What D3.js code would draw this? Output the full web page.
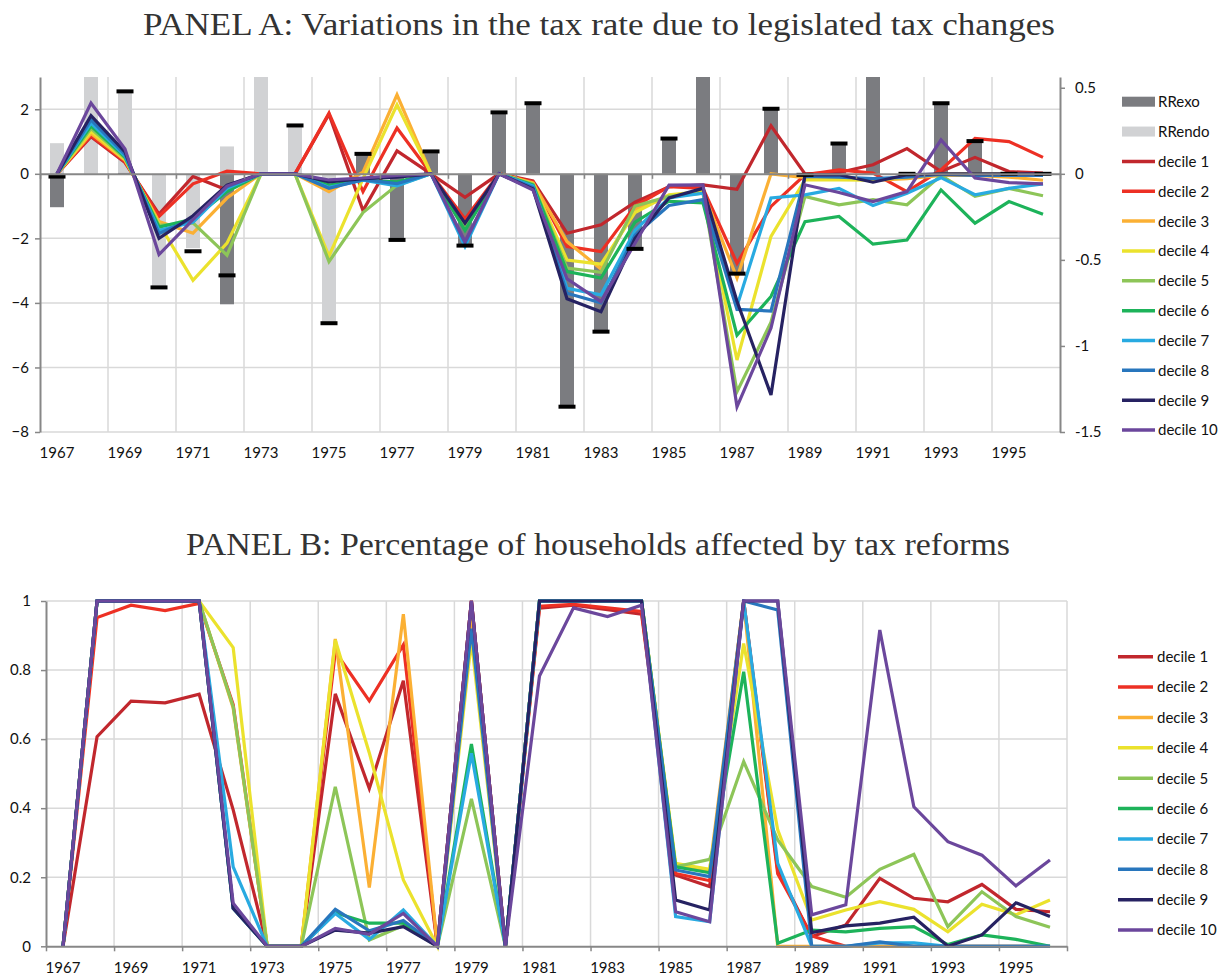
<!DOCTYPE html>
<html><head><meta charset="utf-8">
<script src="https://cdn.jsdelivr.net/npm/d3@7"></script>
<style>
body{margin:0;background:#fff}
text{font-family:Lato,'Open Sans',sans-serif}
text.title{font-family:'Liberation Serif','Times New Roman',serif}
</style>
</head><body>
<svg id="c" width="1229" height="978"></svg>
<script>
// ---------- DATA ----------
const years = [1967,1968,1969,1970,1971,1972,1973,1974,1975,1976,1977,1978,1979,1980,1981,1982,1983,1984,1985,1986,1987,1988,1989,1990,1991,1992,1993,1994,1995,1996];
const yearLabels = [1967,1969,1971,1973,1975,1977,1979,1981,1983,1985,1987,1989,1991,1993,1995];
const aLeftTicks = [-8,-6,-4,-2,0,2];
const aRightTicks = [-1.5,-1,-0.5,0,0.5];
const bTicks = [0,0.2,0.4,0.6,0.8,1];
const decileNames = ["decile 1","decile 2","decile 3","decile 4","decile 5","decile 6","decile 7","decile 8","decile 9","decile 10"];
const decileColors = ["#c1272d","#ed3024","#fbb034","#ebe22d","#8dc558","#1db35a","#28aae1","#2876bd","#262262","#6b479c"];

// Panel A bars (secondary axis)
const rrExo  = [-0.194,0,0.005,0,0,-0.758,0,0,0,0.11,-0.384,0.12,-0.413,0.353,0.405,-1.353,-0.917,-0.43,0.198,0.8,-0.577,0.372,-0.005,0.169,0.8,0,0.405,0.182,0,0];
const rrEndo = [0.178,0.8,0.469,-0.655,-0.432,0.159,0.8,0.275,-0.868,0,0,0,0,0,0,0,0,0,0,0,0,0,0,0,0,0,0,0,0,0];
const rrTotal = [-0.016,null,0.479,-0.66,-0.45,-0.59,null,0.281,-0.868,0.116,-0.384,0.13,-0.417,0.357,0.41,-1.353,-0.917,-0.436,0.205,null,-0.58,0.378,-0.006,0.176,null,0,0.41,0.19,0,0];

// Panel A deciles (primary axis)
const aDecile1  = [0,1.15,0.35,-1.25,-0.08,-0.5,0,0,1.85,-1.14,0.71,0,-0.73,0,-0.22,-1.84,-1.58,-0.88,-0.4,-0.34,-0.48,1.49,0,0.04,0.28,0.78,0.07,0.51,0.07,0.02];
const aDecile2  = [0,1.18,0.38,-1.32,-0.31,0.08,0,0,1.88,-0.55,1.42,0,-1.4,0,-0.25,-2.25,-2.41,-1.0,-0.4,-0.45,-2.77,-1.01,-0.03,0.12,0.02,-0.55,0.12,1.1,1.0,0.51];
const aDecile3  = [0,1.25,0.42,-1.48,-1.84,-0.75,0,0,-0.55,0.05,2.45,0,-1.6,0,-0.28,-2.1,-2.95,-1.1,-0.7,-0.55,-3.23,0.0,-0.12,-0.1,-0.2,-0.15,-0.05,-0.05,-0.1,-0.2];
const aDecile4  = [0,1.32,0.45,-1.55,-3.3,-2.15,0,0,-2.55,-0.15,2.14,0,-1.7,0,-0.3,-2.67,-2.8,-1.2,-0.65,-0.55,-5.77,-1.94,-0.19,-0.19,-0.2,-0.1,0,0,0,-0.05];
const aDecile5  = [0,1.40,0.48,-1.6,-1.52,-2.52,0,0,-2.72,-1.2,-0.35,0,-1.65,0,-0.32,-2.92,-3.05,-1.0,-0.7,-0.6,-6.75,-4.6,-0.7,-0.96,-0.8,-0.96,-0.05,-0.7,-0.45,-0.68];
const aDecile6  = [0,1.48,0.52,-1.65,-1.4,-0.55,0,0,-0.35,-0.2,-0.25,0,-1.75,0,-0.35,-3.03,-3.23,-1.5,-0.85,-0.9,-5.0,-3.8,-1.48,-1.32,-2.18,-2.05,-0.5,-1.53,-0.86,-1.25];
const aDecile7  = [0,1.57,0.56,-1.75,-1.5,-0.45,0,0,-0.42,-0.2,-0.37,0,-2.25,0,-0.38,-3.55,-3.75,-1.75,-0.75,-0.6,-4.1,-0.75,-0.65,-0.45,-0.98,-0.6,-0.12,-0.65,-0.45,-0.31];
const aDecile8  = [0,1.67,0.6,-1.85,-1.38,-0.4,0,0,-0.45,-0.18,-0.3,0,-2.15,0,-0.42,-3.7,-4.0,-1.9,-0.98,-0.8,-4.2,-4.25,-0.08,-0.1,-0.15,-0.1,-0.02,-0.05,-0.05,-0.05];
const aDecile9  = [0,1.80,0.68,-2.0,-1.3,-0.35,0,0,-0.25,-0.15,-0.1,0,-1.53,0,-0.47,-3.87,-4.27,-2.0,-0.75,-0.45,-3.95,-6.85,-0.03,-0.03,-0.26,-0.03,0,0,0,0];
const aDecile10 = [0,2.19,0.77,-2.5,-1.42,-0.38,0,0,-0.19,-0.13,-0.05,0,-2.1,0,-0.5,-3.25,-3.96,-2.15,-0.35,-0.34,-7.22,-4.78,-0.34,-0.58,-0.86,-0.55,1.05,-0.13,-0.27,-0.31];

// Panel B deciles
const bDecile1  = [0,0.607,0.71,0.705,0.73,0.395,0,0,0.731,0.457,0.769,0,1,0,0.979,0.988,0.975,0.962,0.206,0.173,1,0.221,0.028,0.062,0.197,0.139,0.129,0.179,0.107,0.1];
const bDecile2  = [0,0.952,0.988,0.972,0.993,0.70,0,0,0.853,0.711,0.873,0,1,0,0.985,0.99,0.98,0.97,0.211,0.19,1,0.21,0.03,0,0,0,0,0,0,0];
const bDecile3  = [0,1,1,1,1,0.69,0,0,0.89,0.17,0.962,0,0.96,0,1,1,1,1,0.235,0.22,1,0,0,0,0,0,0,0,0,0];
const bDecile4  = [0,1,1,1,1,0.865,0,0,0.887,0.56,0.192,0,0.887,0,1,1,1,1,0.24,0.223,0.877,0.337,0.076,0.105,0.129,0.107,0.042,0.122,0.091,0.134];
const bDecile5  = [0,1,1,1,1,0.694,0,0,0.462,0.018,0.06,0,0.427,0,1,1,1,1,0.23,0.252,0.535,0.308,0.173,0.142,0.223,0.266,0.057,0.158,0.086,0.055];
const bDecile6  = [0,1,1,1,1,0.11,0,0,0.097,0.067,0.067,0,0.586,0,1,1,1,1,0.23,0.213,0.795,0.009,0.047,0.042,0.052,0.057,0.005,0.033,0.02,0];
const bDecile7  = [0,1,1,1,1,0.23,0,0,0.095,0.02,0.105,0,0.559,0,1,1,1,1,0.086,0.071,1,0.24,0,0,0.01,0.01,0,0,0,0];
const bDecile8  = [0,1,1,1,1,0.11,0,0,0.107,0.045,0.075,0,0.92,0,1,1,1,1,0.221,0.202,1,0.974,0,0,0.013,0,0,0,0,0];
const bDecile9  = [0,1,1,1,1,0.11,0,0,0.047,0.038,0.057,0,1,0,1,1,1,1,0.134,0.105,1,1,0.04,0.059,0.067,0.084,0,0.033,0.126,0.086];
const bDecile10 = [0,1,1,1,1,0.125,0,0,0.052,0.035,0.095,0,1,0,0.783,0.98,0.955,0.988,0.1,0.071,1,1,0.091,0.12,0.916,0.404,0.303,0.264,0.175,0.25];

const aSeries = [aDecile1,aDecile2,aDecile3,aDecile4,aDecile5,aDecile6,aDecile7,aDecile8,aDecile9,aDecile10];
const bSeries = [bDecile1,bDecile2,bDecile3,bDecile4,bDecile5,bDecile6,bDecile7,bDecile8,bDecile9,bDecile10];

// ---------- STYLE ----------
const axisCol = "#878787", gridCol = "#d9d9d9", exoCol = "#7b7c80", endoCol = "#d1d2d4";
const svg = d3.select("#c");

function styleAxis(g){
  g.selectAll("path.domain").attr("stroke", axisCol).attr("stroke-width", 2);
  g.selectAll(".tick line").attr("stroke", axisCol).attr("stroke-width", 1.5);
  g.selectAll(".tick text").attr("fill","#111").attr("font-size",15);
}

// ---------- TITLES ----------
svg.append("text").attr("class","title").attr("x",143).attr("y",35).text("PANEL A: Variations in the tax rate due to legislated tax changes")
  .attr("font-size",31).attr("fill","#333")
  .attr("textLength",912).attr("lengthAdjust","spacingAndGlyphs");
svg.append("text").attr("class","title").attr("x",186).attr("y",555).text("PANEL B: Percentage of households affected by tax reforms")
  .attr("font-size",31).attr("fill","#333")
  .attr("textLength",824).attr("lengthAdjust","spacingAndGlyphs");

// ---------- PANEL A ----------
const aTop = 77, aBot = 432, aL = 40, aR = 1060;
const ax = d3.scaleBand().domain(years).range([aL,aR]).padding(0);
const axB = d3.scaleLinear().domain([0,years.length]).range([aL,aR]);
const ayL = d3.scaleLinear().domain([-8,3]).range([aBot,aTop]);
const ayR = d3.scaleLinear().domain([-1.5,0.5625]).range([aBot,aTop]);
const gA = svg.append("g");

svg.append("clipPath").attr("id","clipA").append("rect").attr("x",aL).attr("y",aTop).attr("width",aR-aL).attr("height",aBot-aTop);

// gridlines
gA.append("g").selectAll("line").data(aLeftTicks.filter(d=>d!==0)).join("line")
  .attr("x1",aL).attr("x2",aR).attr("y1",d=>ayL(d)).attr("y2",d=>ayL(d)).attr("stroke",gridCol).attr("stroke-width",1.5);
gA.append("g").selectAll("line").data(d3.range(2,years.length,2)).join("line")
  .attr("x1",d=>axB(d)).attr("x2",d=>axB(d)).attr("y1",aTop).attr("y2",aBot).attr("stroke",gridCol).attr("stroke-width",1.5);

const plotA = gA.append("g").attr("clip-path","url(#clipA)");
const bw = 14;
plotA.append("g").selectAll("rect").data(years.map((y,i)=>({y,v:rrEndo[i]})).filter(d=>d.v!==0)).join("rect")
  .attr("x",d=>ax(d.y)+ax.bandwidth()/2-bw/2).attr("width",bw)
  .attr("y",d=>Math.min(ayR(0),ayR(d.v))).attr("height",d=>Math.abs(ayR(d.v)-ayR(0))).attr("fill",endoCol);
plotA.append("g").selectAll("rect").data(years.map((y,i)=>({y,v:rrExo[i]})).filter(d=>d.v!==0)).join("rect")
  .attr("x",d=>ax(d.y)+ax.bandwidth()/2-bw/2).attr("width",bw)
  .attr("y",d=>Math.min(ayR(0),ayR(d.v))).attr("height",d=>Math.abs(ayR(d.v)-ayR(0))).attr("fill",exoCol);

// zero category axis with ticks
const gZero = gA.append("g").attr("transform",`translate(0,${ayL(0)})`)
  .call(d3.axisBottom(axB).tickValues(d3.range(0,years.length+1,2)).tickFormat("").tickSize(5).tickSizeOuter(0));
styleAxis(gZero);

// decile lines
const lineA = d3.line().x((d,i)=>ax(years[i])+ax.bandwidth()/2).y(d=>ayL(d));
plotA.append("g").selectAll("path").data(aSeries).join("path")
  .attr("d",lineA).attr("fill","none").attr("stroke",(d,i)=>decileColors[i]).attr("stroke-width",3.2).attr("stroke-linejoin","miter");

// total markers
plotA.append("g").selectAll("rect").data(years.map((y,i)=>({y,v:rrTotal[i]})).filter(d=>d.v!==null)).join("rect")
  .attr("x",d=>ax(d.y)+ax.bandwidth()/2-8.5).attr("width",17)
  .attr("y",d=>ayR(d.v)-2).attr("height",4).attr("fill","#000");

// axes
const gAL = gA.append("g").attr("transform",`translate(${aL},0)`)
  .call(d3.axisLeft(ayL).tickValues(aLeftTicks).tickSize(5).tickSizeOuter(0).tickPadding(6));
styleAxis(gAL);
const gAR = gA.append("g").attr("transform",`translate(${aR},0)`)
  .call(d3.axisRight(ayR).tickValues(aRightTicks).tickSize(5).tickSizeOuter(0).tickPadding(10).tickFormat(d=>String(d)));
styleAxis(gAR);
const gAX = gA.append("g").attr("transform",`translate(0,${aBot})`)
  .call(d3.axisBottom(ax).tickValues(yearLabels).tickSize(0).tickPadding(15));
gAX.select("path.domain").remove();
styleAxis(gAX);

// legend A
const legA = gA.append("g");
const legAItems = [{n:"RRexo",t:"bar",c:exoCol},{n:"RRendo",t:"bar",c:endoCol}].concat(decileNames.map((n,i)=>({n,t:"line",c:decileColors[i]})));
legAItems.forEach((d,i)=>{
  const y = 101.7 + i*29.85;
  if(d.t==="bar") legA.append("rect").attr("x",1122).attr("y",y-5).attr("width",33).attr("height",10).attr("fill",d.c);
  else legA.append("line").attr("x1",1122).attr("x2",1155).attr("y1",y).attr("y2",y).attr("stroke",d.c).attr("stroke-width",3.5);
  legA.append("text").attr("x",1158).attr("y",y).attr("dy","0.36em").attr("font-size",15).attr("fill","#111").text(d.n);
});

// ---------- PANEL B ----------
const bTop = 601, bBot = 946.3, bL = 46, bR = 1067;
const bx = d3.scaleBand().domain(years).range([bL,bR]).padding(0);
const bxB = d3.scaleLinear().domain([0,years.length]).range([bL,bR]);
const by = d3.scaleLinear().domain([0,1]).range([bBot,bTop]);
const gB = svg.append("g");

gB.append("g").selectAll("line").data(bTicks.filter(d=>d!==0)).join("line")
  .attr("x1",bL).attr("x2",bR).attr("y1",d=>by(d)).attr("y2",d=>by(d)).attr("stroke",gridCol).attr("stroke-width",1.5);
gB.append("g").selectAll("line").data(d3.range(2,years.length+1,2)).join("line")
  .attr("x1",d=>bxB(d)).attr("x2",d=>bxB(d)).attr("y1",bTop).attr("y2",bBot).attr("stroke",gridCol).attr("stroke-width",1.5);

const lineB = d3.line().x((d,i)=>bx(years[i])+bx.bandwidth()/2).y(d=>by(d));
gB.append("g").selectAll("path").data(bSeries).join("path")
  .attr("d",lineB).attr("fill","none").attr("stroke",(d,i)=>decileColors[i]).attr("stroke-width",3.2).attr("stroke-linejoin","miter");

const gBX = gB.append("g").attr("transform",`translate(0,${bBot})`)
  .call(d3.axisBottom(bxB).tickValues(d3.range(0,years.length+1,2)).tickFormat("").tickSize(5).tickSizeOuter(0));
styleAxis(gBX);
const gBL = gB.append("g").attr("transform",`translate(${bL},0)`)
  .call(d3.axisLeft(by).tickValues(bTicks).tickSize(5).tickSizeOuter(0).tickPadding(10).tickFormat(d=>(d===0||d===1)?String(d):d.toFixed(1)));
styleAxis(gBL);
const gBXL = gB.append("g").attr("transform",`translate(0,${bBot})`)
  .call(d3.axisBottom(bx).tickValues(yearLabels).tickSize(0).tickPadding(16));
gBXL.select("path.domain").remove();
styleAxis(gBXL);

const legB = gB.append("g");
decileNames.forEach((n,i)=>{
  const y = 656.7 + i*30.37;
  legB.append("line").attr("x1",1118).attr("x2",1153).attr("y1",y).attr("y2",y).attr("stroke",decileColors[i]).attr("stroke-width",3.5);
  legB.append("text").attr("x",1157).attr("y",y).attr("dy","0.36em").attr("font-size",15).attr("fill","#111").text(n);
});
</script>
</body></html>
